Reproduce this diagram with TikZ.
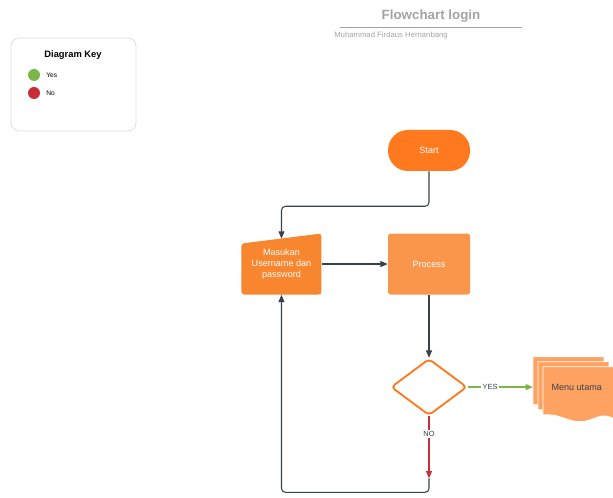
\documentclass[tikz,border=0pt]{standalone}
\usepackage{fontspec}
\setmainfont{Liberation Sans}
\usetikzlibrary{positioning,arrows.meta,shapes.geometric,backgrounds}

\definecolor{lineGray}{HTML}{3A414A}
\definecolor{titleGray}{HTML}{A3A3A3}
\definecolor{startOrange}{HTML}{FF7A1E}
\definecolor{inputOrange}{HTML}{F7862F}
\definecolor{procOrange}{HTML}{FA964C}
\definecolor{menuOrange}{HTML}{FDA261}
\definecolor{yesGreen}{HTML}{7AB648}
\definecolor{noRed}{HTML}{C92D39}

\begin{document}
\begin{tikzpicture}[x=0.75pt,y=-0.75pt,>={Triangle[length=5.5pt,width=4.5pt]},
	font=\fontsize{6.8}{8.3}\selectfont,
	startbox/.style={rectangle, rounded corners=15pt, fill=startOrange, text=white,
		minimum width=61.5pt, minimum height=30.75pt},
	procbox/.style={rectangle, rounded corners=2pt, fill=procOrange, text=white,
		minimum width=61.5pt, minimum height=45.75pt},
	inputbox/.style={rectangle, text=white, align=center,
		minimum width=60pt, minimum height=45.75pt,
		path picture={\fill[inputOrange, rounded corners=2pt]
			(path picture bounding box.south west) --
			([yshift=-7.5pt]path picture bounding box.north west) --
			(path picture bounding box.north east) --
			(path picture bounding box.south east) -- cycle;}},
	decision/.style={diamond, draw=startOrange, line width=1.4pt, fill=white,
		rounded corners=3pt, inner sep=0pt, aspect=1.34,
		minimum width=57pt, minimum height=42.5pt},
	docbox/.style={rectangle, text=lineGray, minimum width=59.25pt, minimum height=45pt},
	sheet/.style={fill=menuOrange, draw=white, line width=0.6pt},
	conn/.style={->, lineGray, line width=0.8pt, rounded corners=3pt},
	yesline/.style={->, yesGreen, line width=0.9pt},
	noline/.style={->, noRed, line width=0.9pt},
	lbl/.style={fill=white, inner sep=1pt, text=lineGray, font=\fontsize{5.6}{6}\selectfont},
	dot/.style={circle, minimum size=9pt, inner sep=0pt}]
	\useasboundingbox (0,0) rectangle (613,498);

	\node (title) [text=titleGray, font=\fontsize{10}{12}\selectfont\bfseries] at (431,16) {Flowchart login};
	\draw [titleGray, line width=0.5pt] (340,27) -- (522,27);
	\node (author) [anchor=west, inner sep=0pt, text=titleGray, font=\fontsize{5.8}{7}\selectfont] at (334,36) {Muhammad Firdaus Hernanbang};

	\node (key) [draw=black!13, line width=0.6pt, rounded corners=6pt, minimum width=93.75pt, minimum height=69.75pt] at (73.5,84.5) {};
	\node (keytitle) [font=\fontsize{7}{8}\selectfont\bfseries] at (73,55) {Diagram Key};
	\node (yesdot) [dot, fill=yesGreen] at (34,75) {};
	\node (yes) [right=1pt of yesdot, font=\fontsize{5}{6}\selectfont] {Yes};
	\node (nodot) [dot, fill=noRed] at (34,93) {};
	\node (no) [right=1pt of nodot, font=\fontsize{5}{6}\selectfont] {No};

	\node (start) [startbox] at (429,150.5) {Start};
	\node (proc)  [procbox, below=46.5pt of start] {Process};
	\node (inp)   [inputbox, left=49.5pt of proc] {Masukan\\Username dan\\password};
	\node (dec)   [decision, below=47.25pt of proc] {};
	\node (menu)  [docbox, right=48.75pt of dec] {\hspace{6pt}Menu utama};
	\coordinate (noend) at ([yshift=-46.5pt]dec.south);

	\begin{pgfonlayer}{background}
		\foreach \d in {0,5,10}
			\draw [sheet] ([shift={(\d,\d)}]menu.north west) -- ++(71,0) -- ++(0,52)
				.. controls ++(-18,-10) and ++(26,10) .. ++(-48,0)
				.. controls ++(-12,-4) .. ++(-23,-4) -- cycle;
	\end{pgfonlayer}

	\draw [conn] (start.south) -- ++(0,35) -| ([yshift=-4pt]inp.north);
	\draw [conn] (inp) -- (proc);
	\draw [conn] (proc) -- (dec);
	\draw [yesline] (dec) -- node [lbl, pos=0.34] {YES} (menu);
	\draw [noline] (dec) -- node [lbl, pos=0.29] {NO} (noend);
	\draw [conn] (noend) -- ++(0,14) -| (inp.south);
\end{tikzpicture}
\end{document}
